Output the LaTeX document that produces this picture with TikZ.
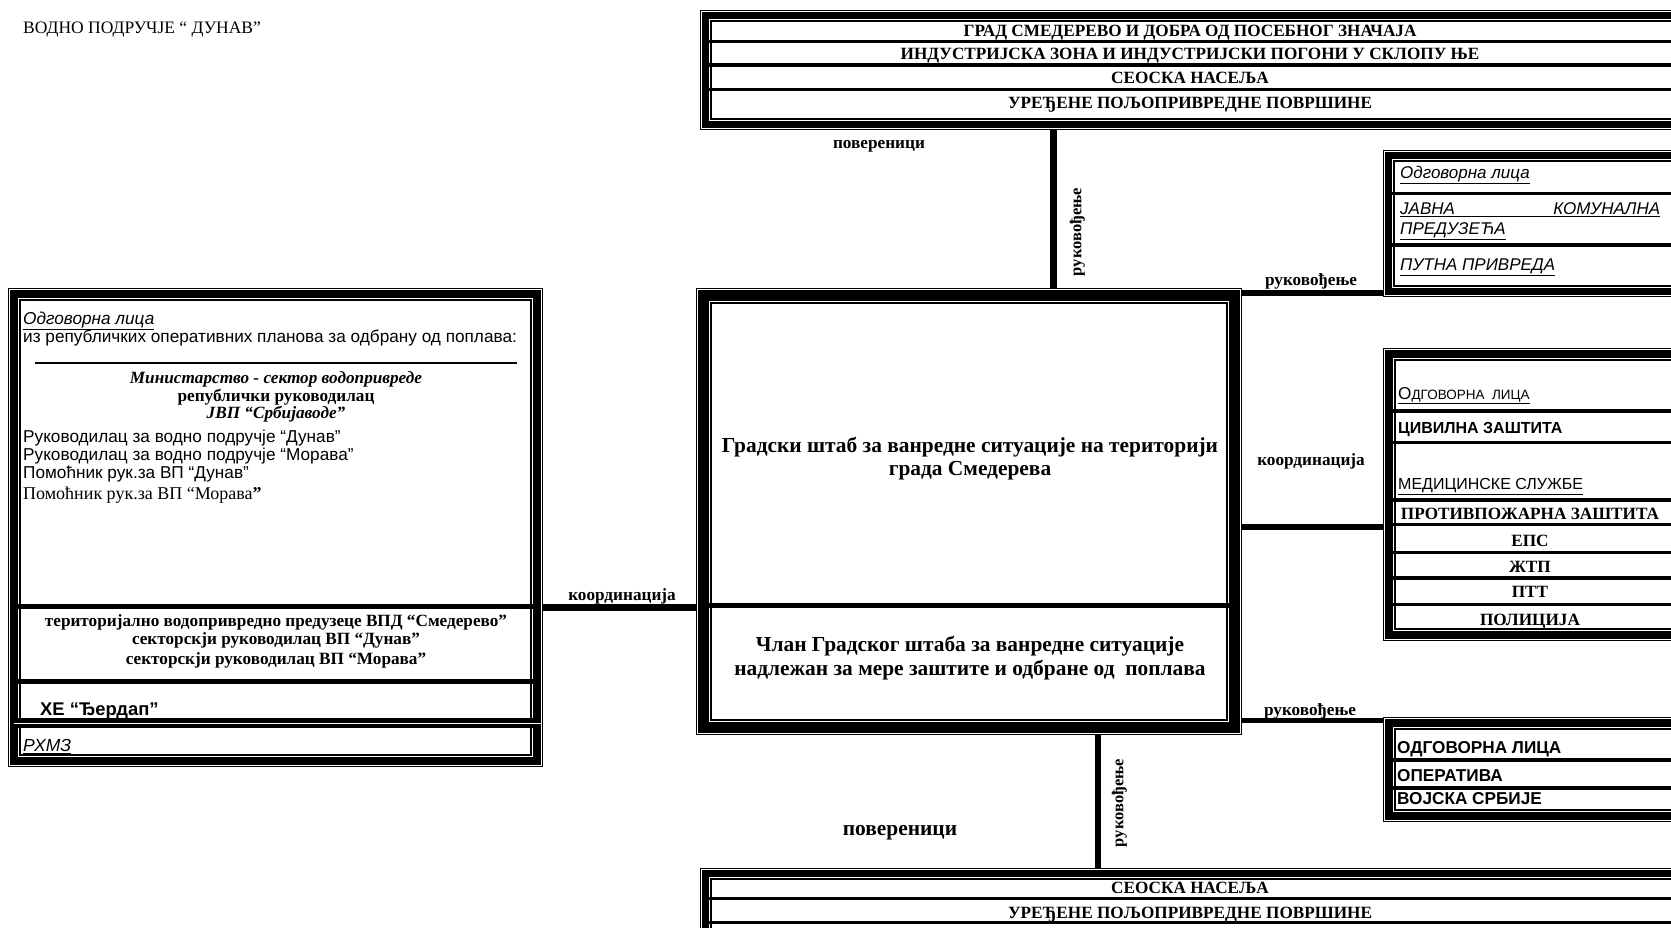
\documentclass[tikz,border=0pt]{standalone}
\usepackage{fontspec}
\setmainfont{Liberation Serif}
\newfontfamily\arialfont{Liberation Sans}

% okvir: tanka linija, debela traka, tanka linija
\newcommand{\okvir}[2]{%
  \pgfmathsetmacro\srednja{2.2+#2/2}%
  \pgfmathsetmacro\unutra{#2+4.0}%
  \draw [line width=1.2] ([shift={(0.6,0.6)}]#1.north west) rectangle ([shift={(-0.6,-0.6)}]#1.south east) ;
  \draw [line width=#2] ([shift={(\srednja,\srednja)}]#1.north west) rectangle ([shift={(-\srednja,-\srednja)}]#1.south east) ;
  \draw [line width=1.2] ([shift={(\unutra,\unutra)}]#1.north west) rectangle ([shift={(-\unutra,-\unutra)}]#1.south east) ;
}

\begin{document}
\begin{tikzpicture}[x=1pt, y=-1pt,
  area/.style={anchor=north west, inner sep=0pt, outer sep=0pt},
  link/.style={line width=6.5, line cap=butt},
  sep/.style={line width=3.5},
  tag/.style={font=\bfseries\fontsize{17.2}{19}\selectfont, inner sep=0pt, anchor=mid},
  vtag/.style={font=\bfseries\fontsize{16.5}{18}\selectfont, inner sep=0pt, anchor=mid, rotate=90},
  row/.style={font=\bfseries\fontsize{17.2}{19}\selectfont, inner sep=0pt, anchor=mid},
  hqtxt/.style={font=\bfseries\fontsize{21.4}{24}\selectfont, inner sep=0pt, anchor=mid},
  sans/.style={font=\arialfont\fontsize{17.2}{19}\selectfont, inner sep=0pt, anchor=mid west},
  sansb/.style={font=\arialfont\bfseries\fontsize{17.2}{19}\selectfont, inner sep=0pt, anchor=mid west},
  sansi/.style={font=\arialfont\itshape\fontsize{17}{19}\selectfont, inner sep=0pt, anchor=mid west}]

 \useasboundingbox (0,0) rectangle (1671,927);

 %%%%%%%%%% Tacke za veze %%%%%%%%%%
 \coordinate (gore) at (1053.5,0);
 \coordinate (dole) at (1098,0);
 \coordinate (levo) at (0,607.5);
 \coordinate (desno1) at (0,293);
 \coordinate (desno2) at (0,527);
 \coordinate (desno3) at (0,720);

 %%%%%%%%%% Naslov %%%%%%%%%%
 \node [anchor=mid west, inner sep=0pt, font=\fontsize{17.5}{19}\selectfont] (naslov) at (23,31) {ВОДНО ПОДРУЧЈЕ “ ДУНАВ”};

 %%%%%%%%%% Kutije %%%%%%%%%%
 \node [area, minimum width=984, minimum height=120] (gradbox) at (700,10) {};
 \node [area, minimum width=535, minimum height=479] (vodabox) at (8,288) {};
 \node [area, minimum width=546, minimum height=447] (stab) at (696,288) {};
 \node [area, minimum width=301, minimum height=147] (komunbox) at (1383,150) {};
 \node [area, minimum width=301, minimum height=293] (sluzbebox) at (1383,348) {};
 \node [area, minimum width=301, minimum height=105] (vojskabox) at (1383,717) {};
 \node [area, minimum width=984, minimum height=92] (seobox) at (700,868) {};

 \okvir{gradbox}{7}
 \okvir{vodabox}{8}
 \okvir{stab}{11}
 \okvir{komunbox}{7}
 \okvir{sluzbebox}{8}
 \okvir{vojskabox}{8}
 \okvir{seobox}{7}

 % redovi
 \draw [sep] (706,41.5) -- (1678,41.5) ;
 \draw [sep] (706,65) -- (1678,65) ;
 \draw [sep] (706,89.5) -- (1678,89.5) ;

 \draw [line width=5] (14,606) -- (537,606) ;
 \draw [line width=5] (14,681) -- (537,681) ;
 \draw [line width=10] (14,723) -- (537,723) ;
 \draw [white, line width=1] (14,723) -- (541,723) ;

 \draw [line width=5] (703,605) -- (1235,605) ;

 \draw [sep] (1389,193.5) -- (1678,193.5) ;
 \draw [sep] (1389,245) -- (1678,245) ;

 \foreach \y in {411,442.5,500,524.5,552.5,578,604.5}
   \draw [sep] (1389,\y) -- (1678,\y) ;

 \draw [line width=4] (1389,760) -- (1678,760) ;
 \draw [line width=4] (1389,788) -- (1678,788) ;

 \draw [sep] (706,898.5) -- (1678,898.5) ;
 \draw [sep] (706,922.5) -- (1678,922.5) ;

 %%%%%%%%%% Veze %%%%%%%%%%
 \draw [link] (gradbox.south -| gore) -- (stab.north -| gore) ;
 \draw [link] (stab.south -| dole) -- (seobox.north -| dole) ;
 \draw [link] (vodabox.east |- levo) -- (stab.west |- levo) ;
 \draw [link] (stab.east |- desno1) -- (komunbox.west |- desno1) ;
 \draw [link] (stab.east |- desno2) -- (sluzbebox.west |- desno2) ;
 \draw [line width=5] (stab.east |- desno3) -- (vojskabox.west |- desno3) ;

 %%%%%%%%%% Oznake na vezama %%%%%%%%%%
 \node [tag] (pov1) at (879,146) {повереници};
 \node [vtag] (ruk1) at (1079,232) {руковођење};
 \node [tag] (ruk2) at (1311,283) {руковођење};
 \node [tag] (koo1) at (1311,463) {координација};
 \node [tag] (koo2) at (622,598) {координација};
 \node [tag] (ruk3) at (1310,713) {руковођење};
 \node [vtag] (ruk4) at (1121,803) {руковођење};
 \node [tag, font=\bfseries\fontsize{21.4}{23}\selectfont] (pov2) at (900,833) {повереници};

 %%%%%%%%%% Tekst: grad %%%%%%%%%%
 \node [row] (grad1) at (1190,34) {ГРАД СМЕДЕРЕВО И ДОБРА ОД ПОСЕБНОГ ЗНАЧАЈА};
 \node [row] (grad2) at (1190,57) {ИНДУСТРИЈСКА ЗОНА И ИНДУСТРИЈСКИ ПОГОНИ У СКЛОПУ ЊЕ};
 \node [row] (grad3) at (1190,81) {СЕОСКА НАСЕЉА};
 \node [row] (grad4) at (1190,106) {УРЕЂЕНЕ ПОЉОПРИВРЕДНЕ ПОВРШИНЕ};

 %%%%%%%%%% Tekst: stab %%%%%%%%%%
 \node [hqtxt] (stab1) at (970,450) {Градски штаб за ванредне ситуације на територији};
 \node [hqtxt] (stab2) at (970,473.5) {града Смедерева};
 \node [hqtxt] (clan1) at (970,649.5) {Члан Градског штаба за ванредне ситуације};
 \node [hqtxt] (clan2) at (970,673) {надлежан за мере заштите и одбране од \ поплава};

 %%%%%%%%%% Tekst: vodno podrucje %%%%%%%%%%
 \node [sansi, font=\arialfont\itshape\fontsize{17.2}{19}\selectfont] (odg1) at (23,322) {\underline{Одговорна лица}};
 \node [sans] (iz) at (23,340) {из републичких оперативних планова за одбрану од поплава:};
 \draw [line width=1.3] (iz.west |- 0,363) ++(12,0) -- (517,363) ;
 \node [row, font=\bfseries\itshape\fontsize{17.2}{19}\selectfont] (min) at (276,381) {Министарство - сектор водопривреде};
 \node [row] (rep) at (276,399) {републички руководилац};
 \node [row, font=\bfseries\itshape\fontsize{17.2}{19}\selectfont] (jvp) at (276,416) {ЈВП “Србијаводе”};
 \node [sans] (rukd) at (23,440) {Руководилац за водно подручје “Дунав”};
 \node [sans] (rukm) at (23,458) {Руководилац за водно подручје “Морава”};
 \node [sans] (pomd) at (23,476) {Помоћник рук.за ВП “Дунав”};
 \node [anchor=mid west, inner sep=0pt, font=\fontsize{18}{20}\selectfont] (pomm) at (23,497) {Помоћник рук.за ВП “Морава\textbf{”}};
 \node [row] (vpd) at (276,624) {територијално водопривредно предузеце ВПД “Смедерево”};
 \node [row] (sekd) at (276,642) {секторскји руководилац ВП “Дунав”};
 \node [row] (sekm) at (276,662) {секторскји руководилац ВП “Морава”};
 \node [sansb, font=\arialfont\bfseries\fontsize{18.4}{20}\selectfont] (he) at (40,713) {ХЕ “Ђердап”};
 \node [sansi, font=\arialfont\itshape\fontsize{17.5}{19}\selectfont] (rhmz) at (23,749) {\underline{РХМЗ}};

 %%%%%%%%%% Tekst: komunalne %%%%%%%%%%
 \node [sansi] (odg2) at (1400,176) {\underline{Одговорна лица}};
 \node [sansi] (jkp) at (1400,212) {\underline{\makebox[260pt]{ЈАВНА\hfill КОМУНАЛНА}}};
 \node [sansi] (pred) at (1400,232) {\underline{ПРЕДУЗЕЋА}};
 \node [sansi] (put) at (1400,268) {\underline{ПУТНА ПРИВРЕДА}};

 %%%%%%%%%% Tekst: sluzbe %%%%%%%%%%
 \node [sans] (odg3) at (1398,397) {\underline{О{\fontsize{13.5}{15}\selectfont ДГОВОРНА \ ЛИЦА}}};
 \node [sansb, font=\arialfont\bfseries\fontsize{16}{18}\selectfont] (cz) at (1398,431) {ЦИВИЛНА ЗАШТИТА};
 \node [sans, font=\arialfont\fontsize{16}{18}\selectfont] (med) at (1398,487) {\underline{МЕДИЦИНСКЕ СЛУЖБЕ}};
 \node [row] (ppz) at (1530,517) {ПРОТИВПОЖАРНА ЗАШТИТА};
 \node [row] (eps) at (1530,544) {ЕПС};
 \node [row] (ztp) at (1530,570) {ЖТП};
 \node [row] (ptt) at (1530,595) {ПТТ};
 \node [row] (pol) at (1530,623) {ПОЛИЦИЈА};

 %%%%%%%%%% Tekst: vojska %%%%%%%%%%
 \node [sansb] (odg4) at (1397,751) {ОДГОВОРНА ЛИЦА};
 \node [sansb] (oper) at (1397,779) {ОПЕРАТИВА};
 \node [sansb] (vs) at (1397,802) {ВОЈСКА СРБИЈЕ};

 %%%%%%%%%% Tekst: sela %%%%%%%%%%
 \node [row] (sela) at (1190,891) {СЕОСКА НАСЕЉА};
 \node [row] (povrs) at (1190,916) {УРЕЂЕНЕ ПОЉОПРИВРЕДНЕ ПОВРШИНЕ};

\end{tikzpicture}
\end{document}
